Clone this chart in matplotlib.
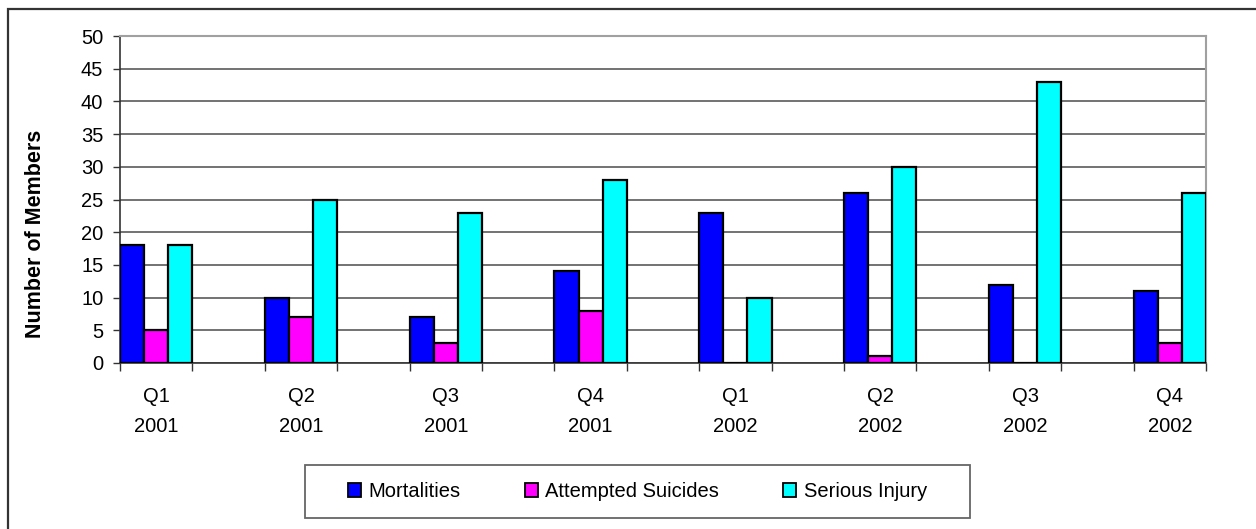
import matplotlib
matplotlib.use("Agg")
import matplotlib.pyplot as plt
from matplotlib.patches import Rectangle, Patch

plt.rcParams['font.family'] = ['Liberation Sans', 'DejaVu Sans']

quarters = ["Q1\n2001", "Q2\n2001", "Q3\n2001", "Q4\n2001",
            "Q1\n2002", "Q2\n2002", "Q3\n2002", "Q4\n2002"]
series_names = ["Mortalities", "Attempted Suicides", "Serious Injury"]
mortalities = [18, 10, 7, 14, 23, 26, 12, 11]
attempted_suicides = [5, 7, 3, 8, 0, 1, 0, 3]
serious_injury = [18, 25, 23, 28, 10, 30, 43, 26]
colors = ["#0000FF", "#FF00FF", "#00FFFF"]
y_ticks = list(range(0, 55, 5))

W, H = 1256, 529
fig = plt.figure(figsize=(W / 100, H / 100), dpi=100)

# Outer chart frame
fig.patches.append(Rectangle((8 / W, -0.05), 1.2, 1 - 9 / H + 0.05,
                             transform=fig.transFigure, fill=False,
                             edgecolor="#333333", linewidth=1.6, zorder=0))

ax = fig.add_axes([120 / W, 1 - 363 / H, (1206 - 120) / W, (363 - 36) / H])

# Each quarter occupies one slot, with an empty slot between quarters
n = len(quarters)
slot = [2 * i for i in range(n)]
w = 1 / 3
for k, (vals, c) in enumerate(zip([mortalities, attempted_suicides, serious_injury], colors)):
    xs = [s + k * w for s in slot]
    ax.bar(xs, vals, width=w, align="edge", color=c, edgecolor="black",
           linewidth=1.6, zorder=3)

ax.set_xlim(0, 2 * n - 1)
ax.set_ylim(0, 50)
ax.set_yticks(y_ticks)
ax.tick_params(axis="y", labelsize=14.5, length=5, width=1, color="#333333", pad=7)
ax.yaxis.grid(True, color="#5a5a5a", linewidth=1.2, zorder=0)

ax.set_xticks(range(0, 2 * n))
ax.set_xticklabels([])
ax.set_xticks([s + 0.5 for s in slot], minor=True)
ax.set_xticklabels(quarters, minor=True, fontsize=14.5, linespacing=1.75)
ax.tick_params(axis="x", which="major", length=6, width=1, color="#333333")
ax.tick_params(axis="x", which="minor", length=0, pad=17)

for side in ["left", "bottom"]:
    ax.spines[side].set_color("#333333")
    ax.spines[side].set_linewidth(1.2)
for side in ["top", "right"]:
    ax.spines[side].set_color("#a0a0a0")
    ax.spines[side].set_linewidth(1.5)

fig.text(36 / W, 1 - 234 / H, "Number of Members", rotation=90,
         ha="center", va="center", fontsize=15.5, fontweight="bold")

# Legend box
lx0, lx1, ly0, ly1 = 305, 970, 465, 518
fig.patches.append(Rectangle((lx0 / W, 1 - ly1 / H), (lx1 - lx0) / W, (ly1 - ly0) / H,
                             transform=fig.transFigure, fill=False,
                             edgecolor="#666666", linewidth=1.3, zorder=1))
handles = [Patch(facecolor=c, edgecolor="black", linewidth=1.3) for c in colors]
leg = fig.legend(handles, series_names, loc="center",
                 bbox_to_anchor=((lx0 + lx1) / 2 / W, 1 - (ly0 + ly1) / 2 / H),
                 ncol=3, fontsize=14.5, frameon=False,
                 handlelength=0.65, handleheight=0.65,
                 handletextpad=0.35, columnspacing=3.2, borderpad=0,
                 borderaxespad=0)

fig.savefig("out.png", dpi=100)
